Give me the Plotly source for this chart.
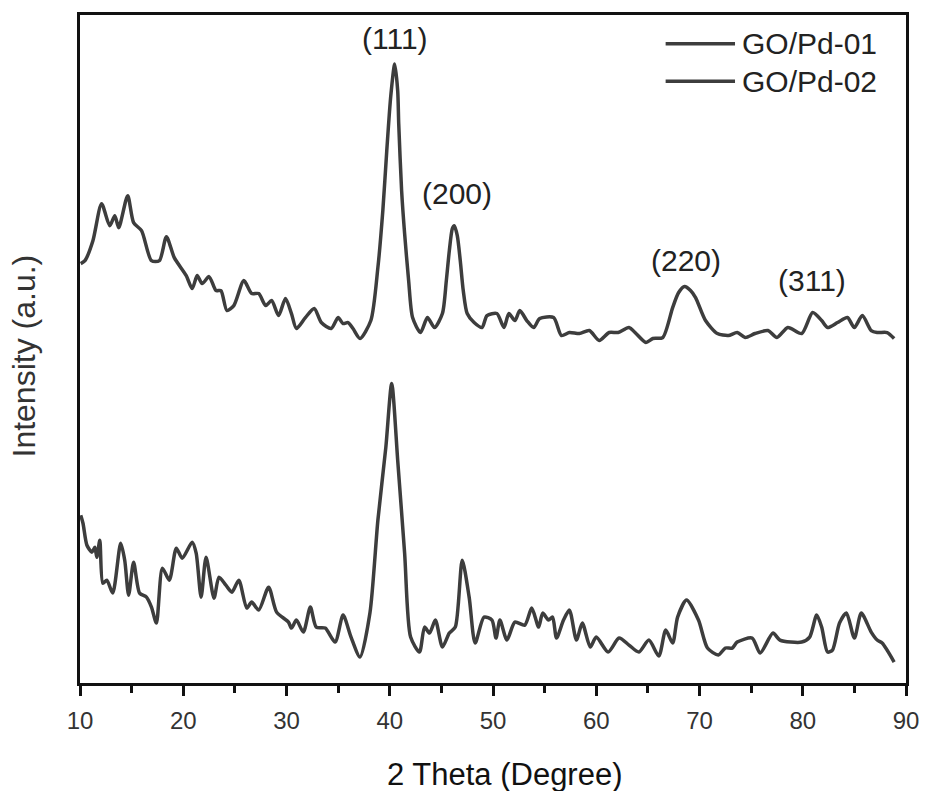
import plotly.graph_objects as go

# GO/Pd-01 (upper pattern)
theta_01 = [10.07, 10.48, 11.25, 12.09, 12.88, 13.37, 13.75, 14.62, 15.19, 15.96,
            16.92, 17.69, 18.37, 19.13, 20.29, 20.87, 21.35, 21.83, 22.5, 23.17,
            23.65, 24.23, 24.9, 25.87, 26.63, 27.31, 27.98, 28.56, 29.23, 29.9,
            30.48, 30.96, 31.83, 32.69, 33.37, 34.33, 35.0, 35.48, 35.96, 36.44,
            37.12, 38.17, 38.85, 39.33, 39.71, 40.10, 40.48, 40.77, 40.87, 41.15,
            41.44, 41.83, 42.21, 42.98, 43.65, 44.33, 45.10, 45.48, 45.77, 46.06,
            46.25, 46.54, 46.83, 47.12, 47.50, 48.17, 48.94, 49.42, 50.38, 51.06,
            51.54, 52.12, 52.6, 53.27, 53.94, 54.52, 55.87, 56.63, 57.4, 58.37,
            59.33, 60.29, 61.25, 62.12, 63.17, 63.85, 64.81, 65.48, 66.44, 67.40,
            67.98, 68.56, 69.13, 69.62, 70.58, 71.73, 72.79, 73.65, 74.42, 75.38,
            76.63, 77.5, 78.56, 79.9, 80.96, 81.83, 82.4, 83.37, 84.33, 85.0,
            85.77, 86.63, 87.21, 88.17, 88.85]
inten_01 = [420, 423, 443, 480, 458, 468, 456, 488, 461, 453,
            423, 423, 447, 426, 408, 395, 408, 400, 407, 393,
            393, 373, 378, 403, 390, 390, 378, 383, 368, 385,
            370, 355, 366, 375, 361, 355, 366, 360, 361, 355,
            345, 363, 416, 473, 533, 588, 620, 593, 560, 493,
            450, 403, 366, 351, 366, 356, 370, 403, 433, 455,
            458, 448, 423, 393, 370, 361, 356, 368, 370, 356,
            370, 363, 373, 363, 356, 365, 366, 348, 351, 350,
            353, 343, 351, 351, 356, 350, 341, 345, 346, 376,
            391, 397, 393, 386, 363, 350, 348, 351, 346, 350,
            353, 346, 356, 350, 371, 363, 356, 361, 366, 356,
            368, 353, 351, 351, 345]

# GO/Pd-02 (lower pattern)
theta_02 = [10.07, 10.29, 10.67, 11.15, 11.44, 11.63, 11.92, 12.21, 12.6, 13.17,
            13.94, 14.33, 14.71, 15.19, 15.77, 16.44, 16.92, 17.40, 17.98, 18.65,
            19.33, 19.9, 20.87, 21.25, 21.73, 22.21, 22.98, 23.46, 24.13, 24.71,
            25.38, 26.15, 26.63, 27.31, 28.27, 29.04, 30.19, 30.48, 30.96, 31.63,
            32.31, 32.88, 33.75, 34.71, 35.48, 36.25, 37.12, 38.08, 38.85, 39.62,
            40.19, 40.77, 41.44, 42.02, 42.88, 43.37, 43.85, 44.42, 45.1, 45.77,
            46.35, 47.02, 47.69, 48.27, 49.13, 49.90, 50.29, 50.67, 51.35, 52.12,
            53.08, 53.75, 54.42, 54.81, 55.38, 55.77, 56.15, 56.83, 57.40, 58.08,
            58.65, 59.42, 60.0, 61.15, 62.21, 63.17, 64.13, 65.10, 66.06, 66.73,
            67.40, 67.88, 68.75, 69.90, 70.77, 71.83, 72.5, 73.17, 73.65, 75.10,
            75.87, 77.12, 77.79, 79.9, 80.67, 81.35, 81.83, 82.40, 82.88, 83.56,
            84.23, 85.0, 85.67, 86.63, 87.21, 87.69, 88.85]
inten_02 = [168, 160, 138, 131, 136, 126, 143, 100, 103, 90,
            140, 123, 88, 121, 90, 86, 76, 60, 115, 103,
            135, 125, 141, 130, 86, 126, 85, 106, 98, 91,
            103, 75, 81, 73, 96, 71, 61, 55, 63, 51,
            76, 56, 55, 41, 68, 46, 26, 70, 163, 236,
            300, 223, 130, 46, 31, 56, 50, 63, 36, 50,
            56, 123, 86, 40, 66, 63, 45, 63, 43, 61,
            58, 75, 56, 70, 63, 66, 45, 63, 73, 43,
            60, 36, 46, 31, 45, 38, 31, 43, 27, 53,
            40, 66, 83, 63, 35, 28, 35, 35, 41, 45,
            30, 50, 43, 41, 46, 68, 56, 31, 33, 60,
            70, 45, 70, 51, 43, 40, 21]

series_names = ["GO/Pd-01", "GO/Pd-02"]
peak_labels = ["(111)", "(200)", "(220)", "(311)"]
peak_x = [40.48, 46.54, 68.65, 80.87]
peak_y = [645, 490, 423, 403]
x_ticks = [10, 20, 30, 40, 50, 60, 70, 80, 90]

LINE = "#3d3d3d"
FONT = "Liberation Sans, Arial, sans-serif"

fig = go.Figure()
for name, xs, ys in [(series_names[0], theta_01, inten_01),
                     (series_names[1], theta_02, inten_02)]:
    fig.add_trace(go.Scatter(x=xs, y=ys, mode="lines", name=name,
                             line=dict(color=LINE, width=3.5, shape="spline", smoothing=0.7),
                             showlegend=False))

for lab, px, py in zip(peak_labels, peak_x, peak_y):
    fig.add_annotation(x=px, y=py, xref="x", yref="y", text=lab, showarrow=False,
                       font=dict(family=FONT, size=30, color="#222"))

# legend drawn as line samples + text
leg_y = [0.957, 0.901]
for name, yy in zip(series_names, leg_y):
    fig.add_shape(type="line", xref="paper", yref="paper", x0=0.709, x1=0.793,
                  y0=yy, y1=yy, line=dict(color=LINE, width=3.5))
    fig.add_annotation(x=0.799, y=yy, xref="paper", yref="paper", text=name,
                       showarrow=False, xanchor="left", yanchor="middle",
                       font=dict(family=FONT, size=30, color="#222"))

fig.add_annotation(x=0.515, y=-0.1375, xref="paper", yref="paper",
                   text="2 Theta (Degree)", showarrow=False, yanchor="middle",
                   font=dict(family=FONT, size=31, color="#111"))
fig.add_annotation(x=-0.068, y=0.49, xref="paper", yref="paper",
                   text="Intensity (a.u.)", showarrow=False, textangle=-90,
                   xanchor="center", yanchor="middle",
                   font=dict(family=FONT, size=32, color="#333"))

fig.update_xaxes(range=[10, 90], tickvals=x_ticks, ticktext=[str(v) for v in x_ticks],
                 ticks="outside", ticklen=10, tickwidth=2.5, tickcolor="#111",
                 showline=True, linewidth=3, linecolor="#111", mirror=True,
                 showgrid=False, zeroline=False, ticklabelstandoff=4,
                 tickfont=dict(family=FONT, size=24, color="#333"),
                 minor=dict(dtick=5, ticks="outside", ticklen=7, tickwidth=2.5, tickcolor="#111"))
fig.update_yaxes(range=[0, 669], showticklabels=False, ticks="",
                 showline=True, linewidth=3, linecolor="#111", mirror=True,
                 showgrid=False, zeroline=False)

fig.update_layout(width=931, height=791, margin=dict(l=80, r=16, t=14, b=108),
                  paper_bgcolor="white", plot_bgcolor="white")

fig.write_html("out.html")
